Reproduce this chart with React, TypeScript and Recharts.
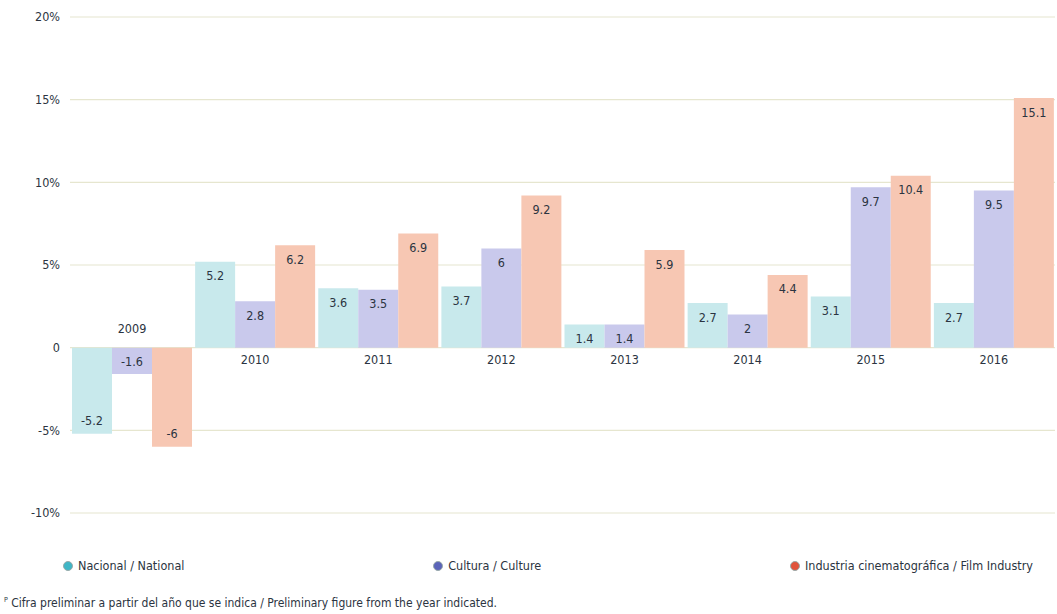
import { BarChart, Bar, XAxis, YAxis, CartesianGrid, LabelList } from 'recharts';

const years = ['2009', '2010', '2011', '2012', '2013', '2014', '2015', '2016'];
const nacional = [-5.2, 5.2, 3.6, 3.7, 1.4, 2.7, 3.1, 2.7];
const cultura = [-1.6, 2.8, 3.5, 6, 1.4, 2, 9.7, 9.5];
const industria = [-6, 6.2, 6.9, 9.2, 5.9, 4.4, 10.4, 15.1];
const yTicks = [-10, -5, 0, 5, 10, 15, 20];

const series = [
  { key: 'nacional', name: 'Nacional / National', fill: '#c8e9ec', dot: '#3fb6c6' },
  { key: 'cultura', name: 'Cultura / Culture', fill: '#c9c9ec', dot: '#5b64b9' },
  { key: 'industria', name: 'Industria cinematográfica / Film Industry', fill: '#f7c7b3', dot: '#e0533c' },
];

const data = years.map((year, i) => ({
  year,
  nacional: nacional[i],
  cultura: cultura[i],
  industria: industria[i],
}));

const FONT = "'Liberation Sans Narrow', 'DejaVu Sans Condensed', 'Roboto', sans-serif";
const INK = '#2b3441';

const formatTick = (v: number) => (v === 0 ? '0' : `${v}%`);

// value printed inside the bar, near its outer end
const renderValue = (props: any) => {
  const { x, y, width, height, value } = props;
  const top = Math.min(y, y + height);
  const bottom = Math.max(y, y + height);
  const ty = value >= 0 ? top + 15 : bottom - 12;
  return (
    <text x={x + width / 2} y={ty} textAnchor="middle" dominantBaseline="middle"
      fontSize={12.5} fontFamily={FONT} fill={INK}>
      {value}
    </text>
  );
};

// year name sits on the zero line, under the middle bar (above it for a negative group)
const renderYear = (props: any) => {
  const { x, y, width, height, value, index } = props;
  const top = Math.min(y, y + height);
  const bottom = Math.max(y, y + height);
  const negative = nacional[index] < 0;
  const zero = value >= 0 ? bottom : top;
  return (
    <text x={x + width / 2} y={negative ? zero - 18 : zero + 13} textAnchor="middle"
      dominantBaseline="middle" fontSize={12.5} fontFamily={FONT} fill={INK}>
      {years[index]}
    </text>
  );
};

export default function App() {
  return (
    <div style={{ position: 'absolute', left: 0, top: 0, width: 1057, height: 614, background: '#fff', fontFamily: FONT }}>
      <BarChart width={1057} height={530} data={data} barCategoryGap={2} barGap={0}
        margin={{ top: 17, right: 2, left: 0, bottom: 17 }}>
        <CartesianGrid vertical={false} stroke="#e6e6cf" strokeWidth={1.2} />
        <XAxis dataKey="year" hide />
        <YAxis
          width={70}
          domain={[-10, 20]}
          ticks={yTicks}
          tickFormatter={formatTick}
          axisLine={false}
          tickLine={false}
          tickMargin={4}
          tick={{ fill: INK, fontSize: 12.5, fontFamily: FONT }}
        />
        {series.map((s) => (
          <Bar key={s.key} dataKey={s.key} fill={s.fill} isAnimationActive={false}>
            <LabelList dataKey={s.key} content={renderValue} />
            {s.key === 'cultura' && <LabelList dataKey={s.key} content={renderYear} />}
          </Bar>
        ))}
      </BarChart>
      <div style={{ position: 'absolute', left: 63, top: 558, width: 970, display: 'flex', justifyContent: 'space-between', fontSize: 12.5, color: INK }}>
        {series.map((s) => (
          <div key={s.key} style={{ display: 'flex', alignItems: 'center' }}>
            <span style={{ width: 8, height: 8, borderRadius: '50%', background: s.dot, border: '1px solid #9aa', marginRight: 5, display: 'inline-block' }} />
            {s.name}
          </div>
        ))}
      </div>
      <div style={{ position: 'absolute', left: 4, top: 596, fontSize: 12, color: INK }}>
        <sup style={{ fontSize: 7 }}>P</sup> Cifra preliminar a partir del año que se indica / Preliminary figure from the year indicated.
      </div>
    </div>
  );
}
